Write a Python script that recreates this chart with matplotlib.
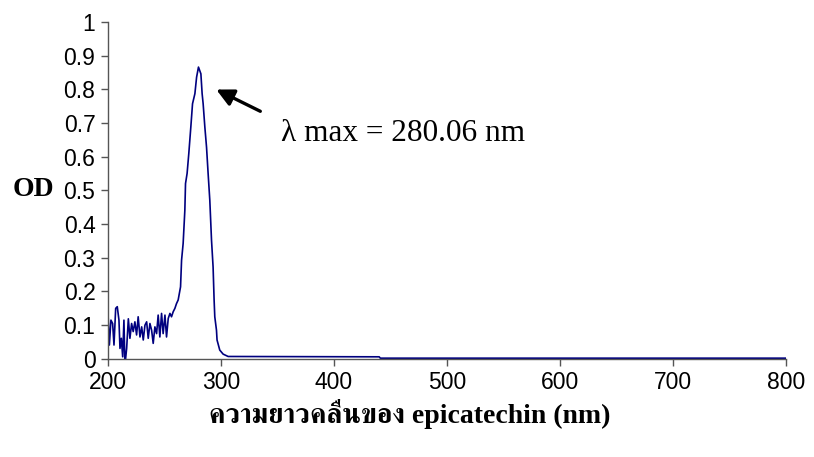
import matplotlib
matplotlib.use("Agg")
import matplotlib.pyplot as plt
from matplotlib import font_manager
from matplotlib.ft2font import FT2Font

# spectrum (wavelength nm, OD)
wavelength = [200, 201.2, 202.6, 204.1, 205.3, 206.8, 208.2, 209.7, 210.6, 211.8,
              213, 214.1, 215, 216.5, 218, 219.4, 220.9, 222.3, 223.8, 225.3,
              226.7, 228.3, 229.8, 231.2, 232.7, 234.2, 235.6, 237.1, 238.6, 240,
              241.5, 243, 244.4, 245.9, 247.4, 248.8, 250.4, 251.8, 253.3, 254.8,
              256.2, 257.7, 259.2, 260.6, 262.1, 264.2, 265.1, 266.5, 268, 268.6,
              270, 271.5, 273.3, 274.8, 276.9, 278.4, 280.06, 282.2, 283.3, 284.2,
              285.7, 287.2, 288.6, 290.1, 291.6, 293, 293.9, 294.5, 296, 296.5,
              298.9, 301.9, 306.3, 440, 441, 800]
od = [0.134, 0.04, 0.114, 0.104, 0.04, 0.149, 0.154, 0.114, 0.03, 0.06,
      0.005, 0.114, -0.02, 0.03, 0.118, 0.06, 0.104, 0.08, 0.109, 0.07,
      0.124, 0.064, 0.094, 0.055, 0.099, 0.109, 0.06, 0.104, 0.084, 0.045,
      0.094, 0.074, 0.129, 0.064, 0.134, 0.074, 0.129, 0.064, 0.119, 0.134,
      0.124, 0.139, 0.149, 0.163, 0.174, 0.213, 0.292, 0.342, 0.44, 0.52,
      0.55, 0.609, 0.688, 0.757, 0.787, 0.836, 0.866, 0.846, 0.787, 0.757,
      0.688, 0.628, 0.55, 0.47, 0.352, 0.272, 0.174, 0.124, 0.084, 0.055,
      0.025, 0.013, 0.006, 0.005, 0.001, 0.001]

x_ticks = [200, 300, 400, 500, 600, 700, 800]
y_ticks = [0, 0.1, 0.2, 0.3, 0.4, 0.5, 0.6, 0.7, 0.8, 0.9, 1]
y_tick_labels = ["0", "0.1", "0.2", "0.3", "0.4", "0.5", "0.6", "0.7", "0.8", "0.9", "1"]


def find_thai_family():
    # look for any installed font that has Thai glyphs, serif ones first
    found = []
    for f in font_manager.fontManager.ttflist:
        try:
            if 0x0E04 in FT2Font(f.fname).get_charmap():
                found.append(f.name)
        except Exception:
            pass
    found = sorted(set(found), key=lambda n: (0 if "Serif" in n else 1, n))
    return found


thai_fams = find_thai_family()
serif_fams = ["Liberation Serif"] + thai_fams + ["DejaVu Serif", "DejaVu Sans"]

fig = plt.figure(figsize=(8.14, 4.57), dpi=100)
ax = fig.add_axes([108 / 814, 1 - 358.5 / 457, (786 - 108) / 814, (358.5 - 22) / 457])

ax.plot(wavelength, od, color="#00007f", lw=1.2)

ax.set_xlim(200, 800)
ax.set_ylim(0, 1)
ax.set_xticks(x_ticks)
ax.set_xticklabels([str(v) for v in x_ticks])
ax.set_yticks(y_ticks)
ax.set_yticklabels(y_tick_labels)
for lab in ax.get_xticklabels() + ax.get_yticklabels():
    lab.set_family("Liberation Sans")
    lab.set_fontsize(16.5)
ax.tick_params(axis="both", direction="out", length=5, width=1, color="#555555", pad=4)
ax.spines["top"].set_visible(False)
ax.spines["right"].set_visible(False)
for s in ("left", "bottom"):
    ax.spines[s].set_color("#555555")
    ax.spines[s].set_linewidth(1)

ax.annotate("", xy=(293.6, 0.803), xytext=(337, 0.731),
            arrowprops=dict(arrowstyle="-|>", color="black", lw=2.4, mutation_scale=26))
ax.text(352.8, 0.669, "λ max = 280.06 nm", family=serif_fams, fontsize=22.5,
        ha="left", va="center")

fig.text(33 / 814, 1 - 190 / 457, "OD", family=serif_fams, fontsize=20,
         fontweight="bold", ha="center", va="center")
fig.text(410 / 814, 1 - 414 / 457, "ความยาวคลื่นของ epicatechin (nm)", family=serif_fams,
         fontsize=20, fontweight="bold", ha="center", va="center")

fig.savefig("out.png", dpi=100)
